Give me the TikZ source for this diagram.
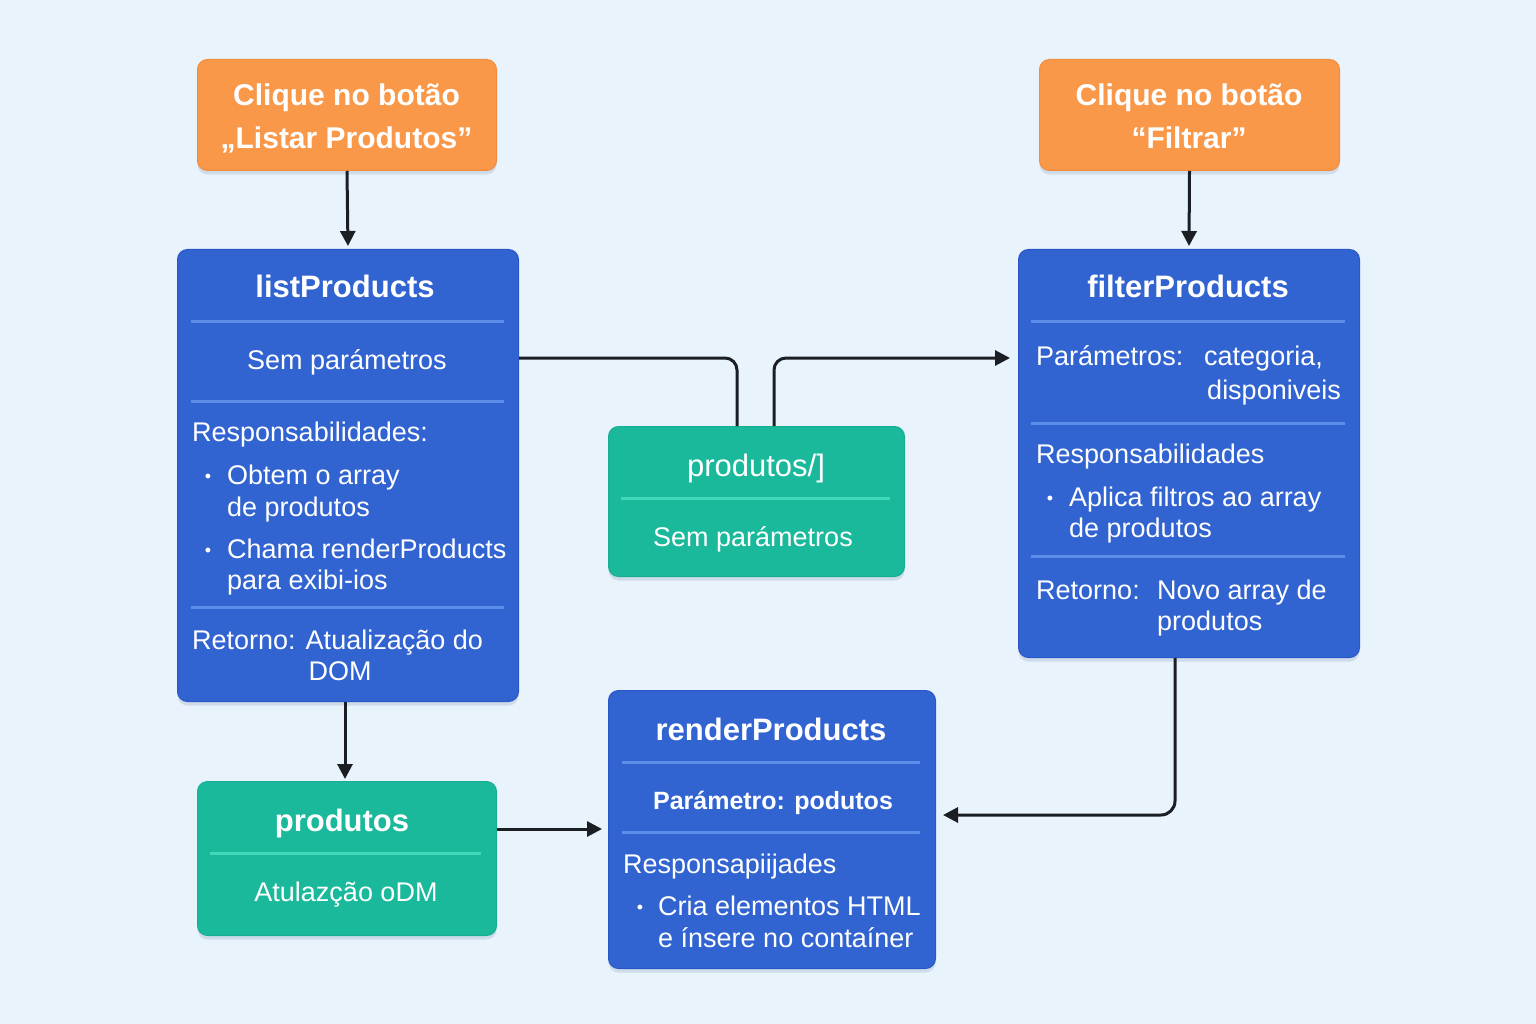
\documentclass[tikz,border=0pt]{standalone}
\usepackage{fontspec}
\setmainfont{Liberation Sans}
\usetikzlibrary{arrows.meta,shadows,calc}
\definecolor{cBg}{HTML}{E9F3FC}
\definecolor{cOr}{HTML}{FA984A}
\definecolor{cOrD}{HTML}{F28B3C}
\definecolor{cBl}{HTML}{3163D1}
\definecolor{cBlD}{HTML}{2A57C8}
\definecolor{cBlL}{HTML}{5B8DE9}
\definecolor{cTe}{HTML}{1BB99C}
\definecolor{cTeD}{HTML}{17AE92}
\definecolor{cTeL}{HTML}{3FD9B9}
\definecolor{cLn}{HTML}{1B1F24}
\definecolor{cSh}{HTML}{9DB0C8}
\begin{document}
\begin{tikzpicture}[x=1pt,y=-1pt,
  boxbase/.style={rounded corners=10pt, anchor=north west, line width=1pt,
    drop shadow={shadow xshift=0pt, shadow yshift=-4pt, opacity=0.35, fill=cSh}},
  obox/.style={boxbase, fill=cOr, draw=cOrD},
  bbox/.style={boxbase, fill=cBl, draw=cBlD},
  tbox/.style={boxbase, fill=cTe, draw=cTeD},
  txt/.style={text=white, inner sep=0pt, font=\fontsize{27}{31}\selectfont},
  ttl/.style={text=white, inner sep=0pt, font=\fontsize{31}{36}\selectfont\bfseries},
  ttlr/.style={text=white, inner sep=0pt, font=\fontsize{31}{36}\selectfont},
  bul/.style={text=white, inner sep=0pt, font=\fontsize{18}{20}\selectfont},
  divb/.style={draw=cBlL, line width=3pt},
  divt/.style={draw=cTeL, line width=3pt},
  conn/.style={draw=cLn, line width=3pt},
  arr/.style={conn, -{Triangle[length=15pt,width=15pt]}}
]
\fill[cBg] (0,0) rectangle (1536,1024);
\useasboundingbox (0,0) rectangle (1536,1024);

% boxes
\node[obox, minimum width=299pt, minimum height=111pt] (o1) at (197,59) {};
\node[obox, minimum width=300pt, minimum height=111pt] (o2) at (1039,59) {};
\node[bbox, minimum width=341pt, minimum height=452pt] (lp) at (177,249) {};
\node[tbox, minimum width=296pt, minimum height=150pt] (pr) at (608,426) {};
\node[bbox, minimum width=341pt, minimum height=408pt] (fp) at (1018,249) {};
\node[bbox, minimum width=327pt, minimum height=278pt] (rp) at (608,690) {};
\node[tbox, minimum width=299pt, minimum height=154pt] (pd) at (197,781) {};

% orange texts
\node[ttl, anchor=base, font=\fontsize{30}{36}\selectfont\bfseries] (o1a) at (346.5,106) {Clique no botão};
\node[ttl, anchor=base, font=\fontsize{30}{36}\selectfont\bfseries] (o1b) at (346.5,149) {„Listar Produtos”};
\node[ttl, anchor=base, font=\fontsize{30}{36}\selectfont\bfseries] (o2a) at (1189,106) {Clique no botão};
\node[ttl, anchor=base, font=\fontsize{30}{36}\selectfont\bfseries] (o2b) at (1189,149) {“Filtrar”};

% listProducts
\draw[divb] (191,321) -- (504,321);
\draw[divb] (191,401) -- (504,401);
\draw[divb] (191,607) -- (504,607);
\node[ttl, anchor=base] (lp1) at (345,298) {listProducts};
\node[txt, anchor=base] (lp2) at (347,369) {Sem parámetros};
\node[txt, anchor=base west] (lp3) at (192,441) {Responsabilidades:};
\node[bul, anchor=base] (lpb1) at (208,482) {•};
\node[txt, anchor=base west] (lp4) at (227,484) {Obtem o array};
\node[txt, anchor=base west] (lp5) at (227,516) {de produtos};
\node[bul, anchor=base] (lpb2) at (208,556) {•};
\node[txt, anchor=base west] (lp6) at (227,558) {Chama renderProducts};
\node[txt, anchor=base west] (lp7) at (227,589) {para exibi-ios};
\node[txt, anchor=base west] (lp8) at (192,649) {Retorno: Atualização do};
\node[txt, anchor=base] (lp9) at (340,680) {DOM};

% produtos/]
\draw[divt] (621,498) -- (890,498);
\node[ttlr, anchor=base] (pr1) at (756,476) {produtos/]};
\node[txt, anchor=base] (pr2) at (753,546) {Sem parámetros};

% filterProducts
\draw[divb] (1031,321) -- (1345,321);
\draw[divb] (1031,423) -- (1345,423);
\draw[divb] (1031,556) -- (1345,556);
\node[ttl, anchor=base] (fp1) at (1188,298) {filterProducts};
\node[txt, anchor=base west] (fp2) at (1036,365) {Parámetros:};
\node[txt, anchor=base west] (fp3) at (1204,365) {categoria,};
\node[txt, anchor=base east] (fp4) at (1341,399) {disponiveis};
\node[txt, anchor=base west] (fp5) at (1036,463) {Responsabilidades};
\node[bul, anchor=base] (fpb1) at (1050,504) {•};
\node[txt, anchor=base west] (fp6) at (1069,506) {Aplica filtros ao array};
\node[txt, anchor=base west] (fp7) at (1069,537) {de produtos};
\node[txt, anchor=base west] (fp8) at (1036,599) {Retorno:};
\node[txt, anchor=base west] (fp9) at (1157,599) {Novo array de};
\node[txt, anchor=base west] (fp10) at (1157,630) {produtos};

% renderProducts
\draw[divb] (622,762) -- (920,762);
\draw[divb] (622,832) -- (920,832);
\node[ttl, anchor=base] (rp1) at (771,740) {renderProducts};
\node[txt, anchor=base, font=\fontsize{25}{30}\selectfont\bfseries] (rp2) at (773,809) {Parámetro: podutos};
\node[txt, anchor=base west] (rp3) at (623,873) {Responsapiijades};
\node[bul, anchor=base] (rpb1) at (640,913) {•};
\node[txt, anchor=base west] (rp4) at (658,915) {Cria elementos HTML};
\node[txt, anchor=base west] (rp5) at (658,947) {e ínsere no contaíner};

% produtos
\draw[divt] (210,853) -- (481,853);
\node[ttl, anchor=base] (pd1) at (342,831) {produtos};
\node[txt, anchor=base] (pd2) at (346,901) {Atulazção oDM};

% connectors
\coordinate (r1) at (737,358);
\coordinate (r2) at (774,358);
\coordinate (d1) at (345,0);
\coordinate (h1) at (0,829);
\coordinate (k1) at (1175,815);
\draw[arr, shorten >=3pt] (o1.south) -- (lp.north);
\draw[arr, shorten >=3pt] (o2.south) -- (fp.north);
\draw[conn, rounded corners=12pt] (lp.east |- r1) -| (pr.north -| r1);
\draw[arr, rounded corners=12pt, shorten >=8pt] (pr.north -| r2) |- (fp.west |- r2);
\draw[arr, shorten >=2pt] (lp.south -| d1) -- (pd.north -| d1);
\draw[arr, shorten >=6pt] (pd.east |- h1) -- (rp.west |- h1);
\draw[arr, rounded corners=14pt, shorten >=7pt] (fp.south -| k1) |- (rp.east |- k1);
\end{tikzpicture}
\end{document}
